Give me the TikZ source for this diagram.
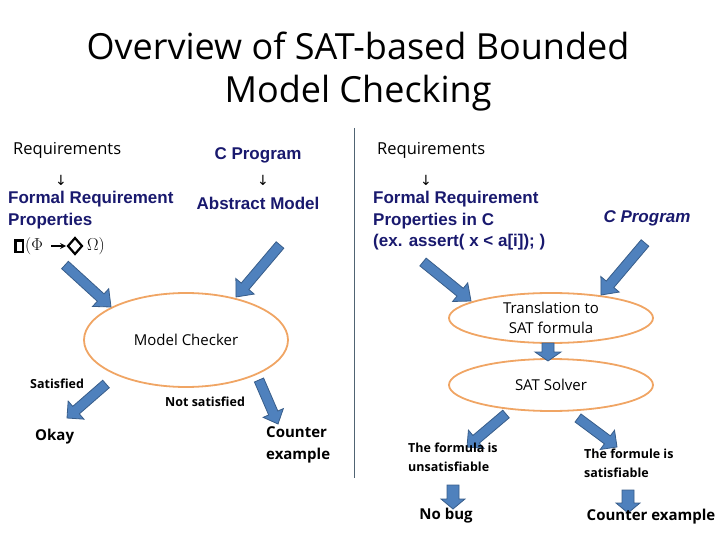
\documentclass[tikz,border=0pt]{standalone}
\usepackage{fontspec}
\setmainfont{Open Sans}
\newfontfamily\arialf{Liberation Sans}
\newfontfamily\symf{DejaVu Sans}
\usetikzlibrary{calc}
\definecolor{navy}{RGB}{25,25,110}
\definecolor{ellorange}{RGB}{240,165,100}
\definecolor{arrfill}{RGB}{79,129,189}
\definecolor{arrdraw}{RGB}{56,93,138}
\definecolor{sepline}{RGB}{80,100,115}
\tikzset{
  plain/.style={font=\fontsize{15}{17}\selectfont, inner sep=0pt},
  reqtext/.style={font=\fontsize{16.5}{17}\selectfont, inner sep=0pt},
  navytext/.style={font=\arialf\bfseries\fontsize{17}{21.5}\selectfont, text=navy, inner sep=0pt, align=left},
  small/.style={font=\bfseries\fontsize{12.5}{19}\selectfont, inner sep=0pt, align=left},
  result/.style={font=\bfseries\fontsize{15}{22}\selectfont, inner sep=0pt, align=left},
  downsym/.style={font=\symf\fontsize{14}{14}\selectfont, inner sep=0pt},
  barrow/.style={fill=arrfill, draw=arrdraw, line width=0.8pt, line join=miter},
  ltl/.style={draw=black, line width=2.2pt}
}
\newcommand{\blockarr}[5]{% from, to, shaft half width, head half width, head length
  \path coordinate (ba-h) at ($(#2)!#5!(#1)$);
  \filldraw[barrow]
    ($(#1)!#3!90:(#2)$) -- ($(ba-h)!#3!-90:(#1)$) -- ($(ba-h)!#4!-90:(#1)$) -- (#2)
    -- ($(ba-h)!#4!90:(#1)$) -- ($(ba-h)!#3!90:(#1)$) -- ($(#1)!#3!-90:(#2)$) -- cycle;
}
\begin{document}
\begin{tikzpicture}[x=1pt,y=-1pt]
\useasboundingbox (0,0) rectangle (720,540);
% title
\node[font=\fontsize{36}{43}\selectfont, align=center, inner sep=0pt] (title) at (358,72) {Overview of SAT-based Bounded\\Model Checking};
% separator
\draw[sepline, line width=1pt] (354,128) -- (354,478);

% ---------- left ----------
\node[reqtext, anchor=west] (lreq) at (13,150) {Requirements};
\node[downsym] (ld1) at (61,180) {↓};
\node[navytext, anchor=north west] (lfrp) at (8,191) {Formal Requirement\\Properties};
% LTL formula
\draw[ltl] (15.5,240.5) rectangle (23,252);
\node[anchor=west, inner sep=0pt, font=\fontsize{16}{16}\selectfont] (lphi) at (25,246) {$(\Phi$};
\draw[line width=1.6pt, -{stealth}] (51,246) -- (66,246);
\draw[ltl, line join=miter] (75,238) -- (82,246) -- (75,254) -- (68,246) -- cycle;
\node[anchor=west, inner sep=0pt, font=\fontsize{16}{16}\selectfont] (lomega) at (87,246) {$\Omega)$};

\node[navytext, anchor=center] (lcp) at (258,155) {C Program};
\node[downsym] (ld2) at (263,180) {↓};
\node[navytext, anchor=center] (lam) at (258,203) {Abstract Model};

\draw[ellorange, line width=1.8pt] (186,340) ellipse [x radius=102, y radius=47];
\node[plain] (mc) at (186,340) {Model Checker};

\coordinate (la1s) at (65,265); \coordinate (la1e) at (111,307);
\blockarr{la1s}{la1e}{5pt}{12pt}{14pt}
\coordinate (la2s) at (280,245); \coordinate (la2e) at (236,297);
\blockarr{la2s}{la2e}{5pt}{12pt}{14pt}
\coordinate (la3s) at (106,384); \coordinate (la3e) at (67,418);
\blockarr{la3s}{la3e}{5pt}{12pt}{12pt}
\coordinate (la4s) at (259,380); \coordinate (la4e) at (278,424);
\blockarr{la4s}{la4e}{5pt}{11pt}{12pt}

\node[small, anchor=west] (sat) at (30,384) {Satisfied};
\node[small, anchor=west] (nsat) at (165,402) {Not satisfied};
\node[result, anchor=west] (okay) at (35,437) {Okay};
\node[result, anchor=north west] (cex1) at (266,426) {Counter\\example};

% ---------- right ----------
\node[reqtext, anchor=west] (rreq) at (377,150) {Requirements};
\node[downsym] (rd1) at (426,180) {↓};
\node[navytext, anchor=north west] (rfrp) at (373,191) {Formal Requirement\\Properties in C\\(ex. assert( x < a[i]); )};
\node[navytext, anchor=center, font=\arialf\bfseries\itshape\fontsize{17}{21}\selectfont] (rcp) at (647,218) {C Program};

\draw[ellorange, line width=1.8pt] (551,318) ellipse [x radius=102, y radius=25];
\node[plain, align=center, font=\fontsize{15}{20}\selectfont] (tr) at (551,318) {Translation to\\SAT formula};
\draw[ellorange, line width=1.8pt] (551,385) ellipse [x radius=102, y radius=26];
\node[plain] (ss) at (551,385) {SAT Solver};

\coordinate (ra1s) at (423,262); \coordinate (ra1e) at (471,301);
\blockarr{ra1s}{ra1e}{5pt}{12pt}{14pt}
\coordinate (ra2s) at (645,243); \coordinate (ra2e) at (601,295);
\blockarr{ra2s}{ra2e}{5pt}{12pt}{14pt}
\coordinate (ra3s) at (548,343); \coordinate (ra3e) at (548,361);
\blockarr{ra3s}{ra3e}{6pt}{13pt}{9pt}
\coordinate (ra4s) at (506,414); \coordinate (ra4e) at (467,447);
\blockarr{ra4s}{ra4e}{5pt}{12pt}{12pt}
\coordinate (ra5s) at (578,418); \coordinate (ra5e) at (617,447);
\blockarr{ra5s}{ra5e}{5pt}{12pt}{12pt}
\coordinate (ra6s) at (453,485); \coordinate (ra6e) at (453,509);
\blockarr{ra6s}{ra6e}{6pt}{12pt}{10pt}
\coordinate (ra7s) at (628,490); \coordinate (ra7e) at (628,513);
\blockarr{ra7s}{ra7e}{6pt}{12pt}{10pt}

\node[small, anchor=north west] (unsat) at (408,443) {The formula is\\unsatisfiable};
\node[small, anchor=north west] (satf) at (584,449) {The formule is\\satisfiable};
\node[result, anchor=center] (nobug) at (446,516) {No bug};
\node[result, anchor=center] (cex2) at (651,517) {Counter example};
\end{tikzpicture}
\end{document}
